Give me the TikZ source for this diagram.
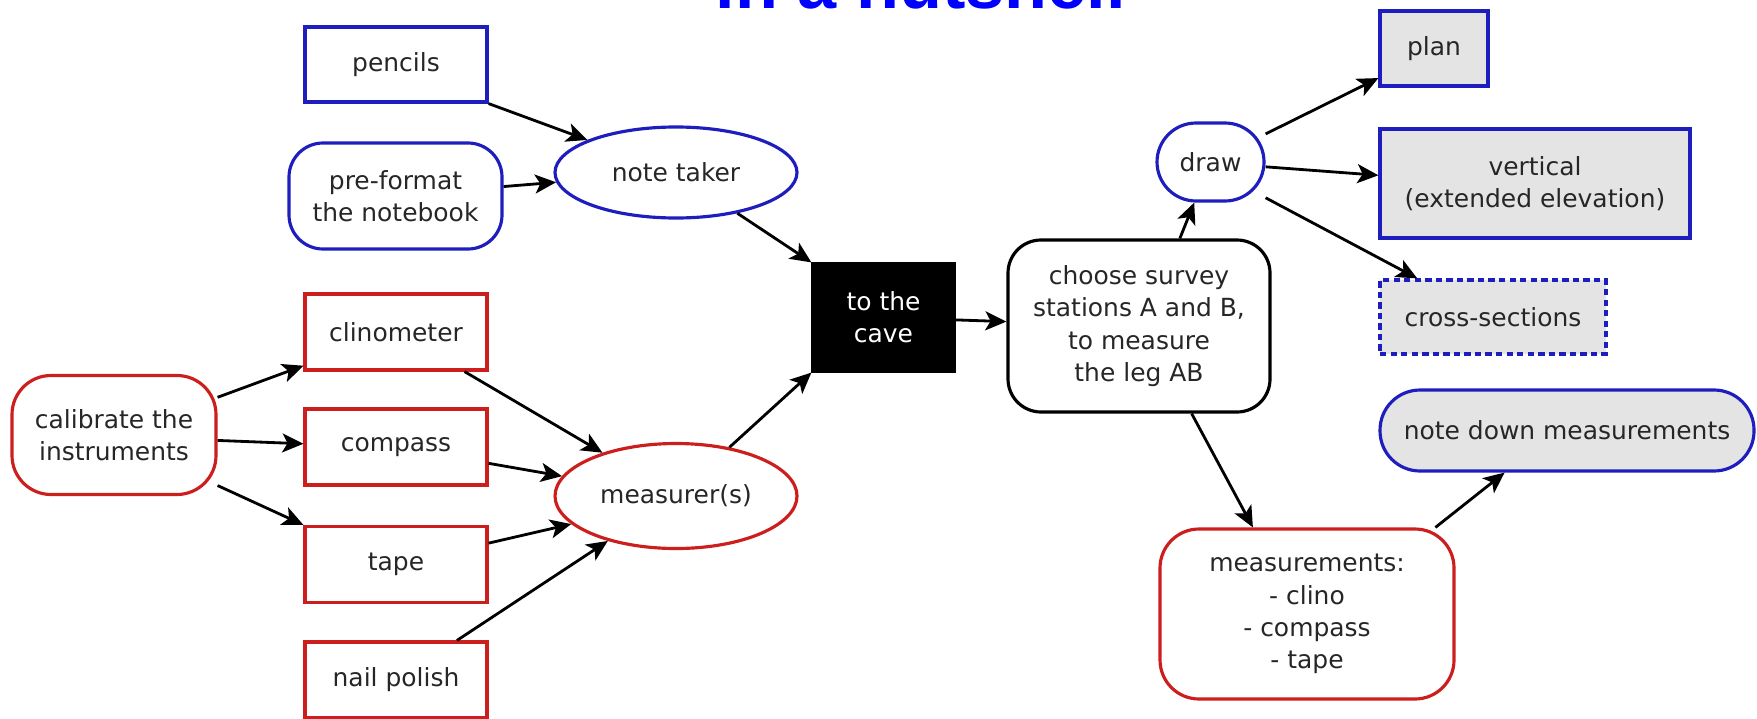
\documentclass[tikz,border=0pt]{standalone}
\usepackage{fontspec}
\setmainfont{DejaVu Sans}
\newfontfamily\titlefont{Liberation Sans}
\usepackage{tikz}
\usetikzlibrary{arrows.meta, positioning, shapes}
\definecolor{azul}{RGB}{30, 30, 190}
\definecolor{rojo}{RGB}{205, 30, 30}
\definecolor{gris}{RGB}{228, 228, 228}
\definecolor{titulo}{RGB}{0, 0, 255}
\tikzset{
    base/.style={draw, align=center, inner sep=0pt, line width=0.9pt, text=black!85, font=\fontsize{7.1}{9.2}\selectfont},
    blueBox/.style={base, rectangle, draw=azul, fill=white},
    bluePill/.style={base, rectangle, rounded corners=3.4mm, draw=azul, fill=white},
    blueOval/.style={base, ellipse, draw=azul, fill=white},
    redBox/.style={base, rectangle, draw=rojo, fill=white, minimum width=18.2mm, minimum height=7.6mm},
    redPill/.style={base, rectangle, rounded corners=3.9mm, draw=rojo, fill=white},
    redOval/.style={base, ellipse, draw=rojo, fill=white},
    greyBox/.style={base, rectangle, draw=azul, fill=gris},
    greyPill/.style={base, rectangle, rounded corners=4mm, draw=azul, fill=gris},
    caveBox/.style={base, rectangle, draw=black, fill=black, text=white},
    stationBox/.style={base, rectangle, rounded corners=3.3mm, draw=black, fill=white},
    conn/.style={-{Stealth[length=6pt, width=5.4pt, inset=1.5pt]}, line width=0.8pt, black},
}

\begin{document}
\begin{tikzpicture}[x=0.1mm, y=-0.1mm]
    \useasboundingbox (0,0) rectangle (1757,718);

    \node [anchor=base, text=titulo, font=\titlefont\bfseries\fontsize{20}{24}\selectfont] (title) at (921,8) {in a nutshell};

    % note taker side
    \node [blueBox, minimum width=18.2mm, minimum height=7.5mm] (pen) at (396,64.5) {pencils};
    \node [bluePill, minimum width=21.3mm, minimum height=10.6mm] (pre) at (395.5,196) {pre-format\\the notebook};
    \node [blueOval, minimum width=24.2mm, minimum height=9.1mm] (nt) at (676,172.5) {note taker};

    % measurer side
    \node [redPill, minimum width=20.4mm, minimum height=11.9mm] (cal) at (114,435) {calibrate the\\instruments};
    \node [redBox] (cli) at (396,332) {clinometer};
    \node [redBox] (com) at (396,447) {compass};
    \node [redBox] (tap) at (396,564.5) {tape};
    \node [redBox] (nail) at (396,680) {nail polish};
    \node [redOval, minimum width=24.2mm, minimum height=10.5mm] (mea) at (676,496) {measurer(s)};

    \node [caveBox, minimum width=14.1mm, minimum height=10.7mm] (cave) at (883.5,317.5) {to the\\cave};
    \node [stationBox, minimum width=26.2mm, minimum height=17.2mm] (st) at (1139,326) {choose survey\\stations A and B,\\to measure\\the leg AB};

    % drawing
    \node [base, rectangle, rounded corners=3.9mm, draw=azul, fill=white, minimum width=10.7mm, minimum height=7.8mm] (dr) at (1210.5,162) {draw};
    \node [greyBox, minimum width=10.8mm, minimum height=7.5mm] (plan) at (1434,48.5) {plan};
    \node [greyBox, minimum width=31mm, minimum height=10.9mm] (vert) at (1535,183.5) {vertical\\(extended elevation)};
    \node [greyBox, dash pattern=on 1.8pt off 1.2pt, minimum width=22.6mm, minimum height=7.4mm] (cross) at (1493,317) {cross-sections};

    % measurements
    \node [redPill, minimum width=29.4mm, minimum height=17mm] (ms) at (1307,614) {measurements:\\- clino\\- compass\\- tape};
    \node [greyPill, minimum width=37.4mm, minimum height=8.1mm] (nd) at (1567,430.5) {note down measurements};

    \draw[conn] (pen.south east) -- (nt);
    \draw[conn] (pre.5) -- (nt);
    \draw[conn] (nt) -- (cave.north west);

    \draw[conn] (cal.20) -- (cli.200);
    \draw[conn] (cal.-3) -- (com.178);
    \draw[conn] (cal.-26) -- (tap.north west);

    \draw[conn] (cli.-30) -- (mea);
    \draw[conn] (com.-10) -- (mea);
    \draw[conn] (tap.13) -- (mea.195);
    \draw[conn] (nail.33) -- (mea);
    \draw[conn] (mea) -- (cave.south west);

    \draw[conn] (cave) -- (st);
    \draw[conn] (st.65) -- (dr);
    \draw[conn] (dr.27) -- (plan.208);
    \draw[conn] (dr.-5) -- (vert.177);
    \draw[conn] (dr.-33) -- (cross.153);

    \draw[conn] (st.-59) -- (ms.122);
    \draw[conn] (ms.34) -- (nd.214);
\end{tikzpicture}
\end{document}
